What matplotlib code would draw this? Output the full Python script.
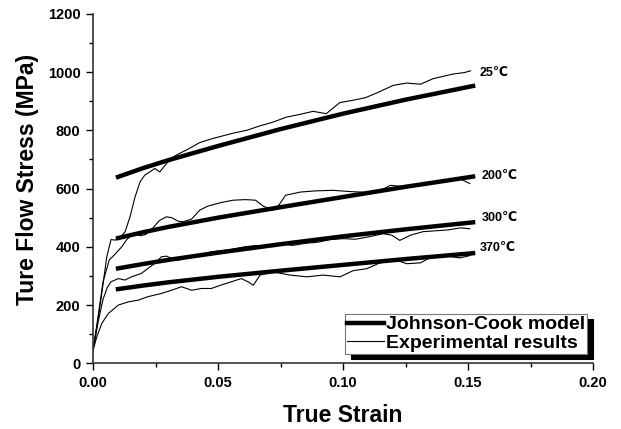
import matplotlib
matplotlib.use("Agg")
import matplotlib.pyplot as plt
from matplotlib.ticker import MultipleLocator

plt.rcParams['font.family'] = ['Liberation Sans', 'DejaVu Sans']

# Johnson-Cook model curves (strain, stress MPa)
jc_strain = [0.01, 0.02, 0.03, 0.05, 0.075, 0.10, 0.125, 0.152]
jc_25 = [640, 670, 697, 746, 804, 857, 905, 952]
jc_200 = [430, 450, 468, 500, 536, 571, 606, 641]
jc_300 = [326, 341, 355, 380, 409, 436, 460, 484]
jc_370 = [255, 267, 278, 297, 318, 338, 358, 378]

# experimental curves
exp25_x = [0, 0.002, 0.0035, 0.0055, 0.0072, 0.0088, 0.0108, 0.0128, 0.0148, 0.0168,
           0.0188, 0.0207, 0.0227, 0.0247, 0.0267, 0.0294, 0.0314, 0.034, 0.038, 0.0427,
           0.048, 0.056, 0.0615, 0.0667, 0.072, 0.0773, 0.083, 0.088, 0.0933, 0.0987,
           0.104, 0.109, 0.114, 0.12, 0.1255, 0.131, 0.136, 0.14, 0.144, 0.1485, 0.151]
exp25_y = [45, 150, 240, 366, 425, 423, 432, 451, 503, 571,
           623, 646, 657, 669, 657, 686, 705, 718, 735, 758,
           772, 790, 800, 815, 828, 845, 855, 865, 857, 895,
           903, 912, 930, 954, 962, 958, 977, 985, 993, 998, 1004]

exp200_x = [0, 0.002, 0.004, 0.0065, 0.0085, 0.0115, 0.0135, 0.0154, 0.017, 0.0188,
            0.021, 0.024, 0.0265, 0.0293, 0.0315, 0.034, 0.036, 0.0394, 0.0427, 0.046,
            0.0513, 0.056, 0.061, 0.065, 0.068, 0.072, 0.0745, 0.077, 0.083, 0.089,
            0.096, 0.102, 0.107, 0.112, 0.116, 0.119, 0.125, 0.13, 0.136, 0.1415,
            0.1467, 0.1507]
exp200_y = [45, 160, 280, 355, 372, 400, 425, 440, 445, 438,
            442, 465, 490, 503, 500, 488, 486, 495, 526, 540,
            552, 560, 562, 560, 540, 526, 545, 577, 588, 592,
            594, 590, 588, 583, 598, 611, 606, 612, 623, 628,
            634, 617]

exp300_x = [0, 0.002, 0.004, 0.0058, 0.0072, 0.0101, 0.0128, 0.0154, 0.0194, 0.022,
            0.0247, 0.0274, 0.0294, 0.0314, 0.034, 0.0367, 0.042, 0.0473, 0.054, 0.0606,
            0.0646, 0.07, 0.075, 0.08, 0.085, 0.09, 0.095, 0.10, 0.105, 0.11,
            0.116, 0.1195, 0.1227, 0.127, 0.132, 0.137, 0.142, 0.147, 0.1507]
exp300_y = [45, 140, 220, 262, 280, 291, 286, 297, 309, 326,
            343, 366, 368, 360, 354, 363, 371, 383, 389, 400,
            404, 403, 410, 405, 412, 416, 425, 428, 426, 434,
            445, 440, 422, 440, 452, 455, 458, 465, 462]

exp370_x = [0, 0.0015, 0.0035, 0.0061, 0.0101, 0.0141, 0.0181, 0.022, 0.0274, 0.0314,
            0.0354, 0.0394, 0.0434, 0.0473, 0.0513, 0.0553, 0.0593, 0.062, 0.0641, 0.0668,
            0.0721, 0.0788, 0.0855, 0.092, 0.0988, 0.104, 0.1095, 0.1148, 0.12, 0.1255,
            0.131, 0.136, 0.1388, 0.144, 0.1468, 0.1508]
exp370_y = [45, 91, 137, 171, 200, 211, 217, 229, 240, 251,
            263, 251, 257, 257, 269, 280, 291, 280, 268, 303,
            314, 303, 297, 303, 297, 318, 325, 345, 358, 342,
            345, 368, 372, 365, 362, 370]

temp_labels = ['25\u2103', '200\u2103', '300\u2103', '370\u2103']
label_x = [0.1545, 0.1555, 0.1555, 0.1545]
label_y = [995, 643, 498, 397]

fig = plt.figure(figsize=(6.21, 4.29), dpi=100)
ax = fig.add_axes([0.1498, 0.153, 0.8052, 0.815])

ax.plot(jc_strain, jc_25, color='k', lw=3.2, label='Johnson-Cook model')
ax.plot(jc_strain, jc_200, color='k', lw=3.2)
ax.plot(jc_strain, jc_300, color='k', lw=3.2)
ax.plot(jc_strain, jc_370, color='k', lw=3.2)

ax.plot(exp25_x, exp25_y, color='k', lw=0.8, label='Experimental results')
ax.plot(exp200_x, exp200_y, color='k', lw=0.8)
ax.plot(exp300_x, exp300_y, color='k', lw=0.8)
ax.plot(exp370_x, exp370_y, color='k', lw=0.8)

for t, x, y in zip(temp_labels, label_x, label_y):
    ax.text(x, y, t, fontsize=9, fontweight='bold', va='center', ha='left')

ax.set_xlim(0, 0.20)
ax.set_ylim(0, 1200)
ax.xaxis.set_major_locator(MultipleLocator(0.05))
ax.xaxis.set_minor_locator(MultipleLocator(0.025))
ax.yaxis.set_major_locator(MultipleLocator(200))
ax.yaxis.set_minor_locator(MultipleLocator(100))
ax.xaxis.set_major_formatter(plt.FormatStrFormatter('%.2f'))

for s in ['top', 'right']:
    ax.spines[s].set_visible(False)
for s in ['left', 'bottom']:
    ax.spines[s].set_linewidth(1.2)
    ax.spines[s].set_color('#333333')

ax.tick_params(which='major', direction='out', length=5, width=1.0, labelsize=10.5, pad=4)
ax.tick_params(which='minor', direction='out', length=3, width=1.0)
for lab in ax.get_xticklabels() + ax.get_yticklabels():
    lab.set_fontweight('bold')

ax.set_xlabel('True Strain', fontsize=16.5, fontweight='bold', labelpad=10)
ax.set_ylabel('Ture Flow Stress (MPa)', fontsize=16.5, fontweight='bold')
ax.yaxis.set_label_coords(-0.108, 0.525)

leg = ax.legend(loc='lower right', bbox_to_anchor=(0.988, 0.027), borderaxespad=0,
                prop={'weight': 'bold', 'size': 14},
                handlelength=1.9, handletextpad=0.1, borderpad=0.1, labelspacing=0.05,
                fancybox=False, edgecolor='#777777', framealpha=1,
                shadow={'ox': 4, 'oy': -4, 'facecolor': 'k', 'edgecolor': 'k', 'alpha': 1})
leg.get_frame().set_linewidth(0.8)

fig.savefig('out.png', dpi=100)
